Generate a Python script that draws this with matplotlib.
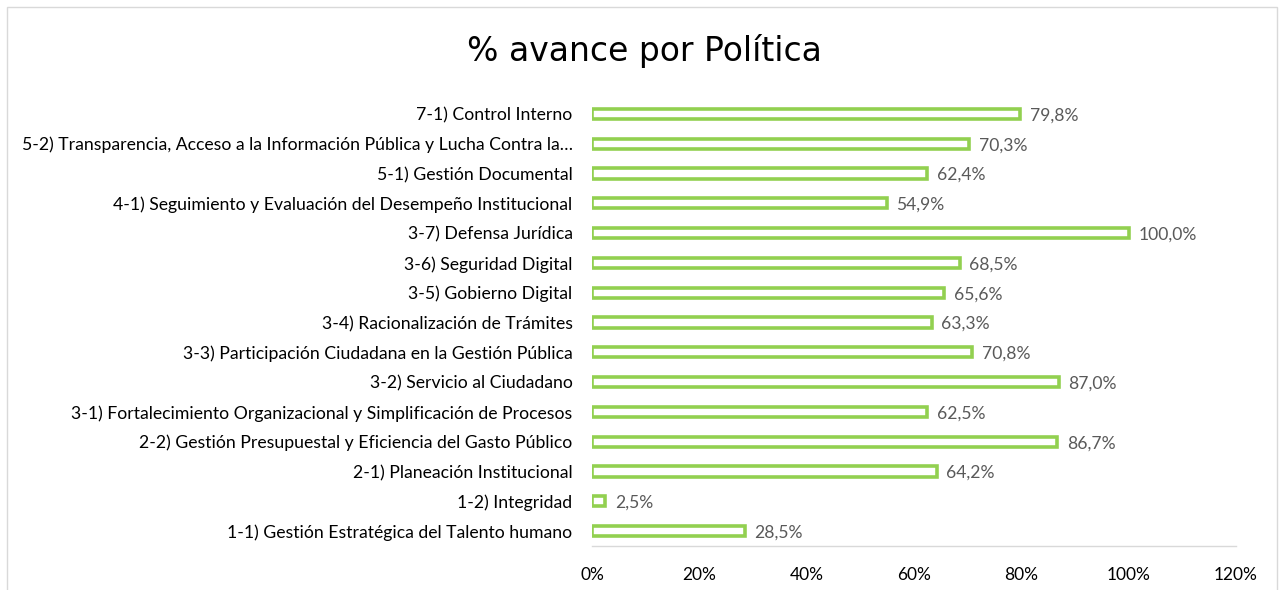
import matplotlib.pyplot as plt
from matplotlib.patches import Rectangle
from matplotlib.ticker import FuncFormatter

categorias = [
    "1-1) Gestión Estratégica del Talento humano",
    "1-2) Integridad",
    "2-1) Planeación Institucional",
    "2-2) Gestión Presupuestal y Eficiencia del Gasto Público",
    "3-1) Fortalecimiento Organizacional y Simplificación de Procesos",
    "3-2) Servicio al Ciudadano",
    "3-3) Participación Ciudadana en la Gestión Pública",
    "3-4) Racionalización de Trámites",
    "3-5) Gobierno Digital",
    "3-6) Seguridad Digital",
    "3-7) Defensa Jurídica",
    "4-1) Seguimiento y Evaluación del Desempeño Institucional",
    "5-1) Gestión Documental",
    "5-2) Transparencia, Acceso a la Información Pública y Lucha Contra la…",
    "7-1) Control Interno",
]
avance = [0.285, 0.025, 0.642, 0.867, 0.625, 0.870, 0.708, 0.633, 0.656,
          0.685, 1.000, 0.549, 0.624, 0.703, 0.798]
ticks_x = [0, 0.2, 0.4, 0.6, 0.8, 1.0, 1.2]

plt.rcParams['font.family'] = ['Lato', 'DejaVu Sans']

fig = plt.figure(figsize=(12.82, 5.9), dpi=100)
ax = fig.add_axes([592/1282, 1 - 546/590, 644/1282, 447/590])

verde = '#92D050'
ax.barh(range(len(avance)), avance, height=0.34, color='white',
        edgecolor=verde, linewidth=2.6)

for i, v in enumerate(avance):
    ax.text(v + 0.018, i, f"{v*100:.1f}%".replace('.', ','),
            va='center_baseline', ha='left', fontsize=12.6, color='#595959')

ax.set_xlim(0, 1.2)
ax.set_ylim(-0.5, len(avance) - 0.5)
ax.set_xticks(ticks_x)
ax.xaxis.set_major_formatter(FuncFormatter(lambda x, p: f"{x*100:.0f}%"))
ax.set_yticks(range(len(categorias)))
ax.set_yticklabels(categorias)
ax.tick_params(axis='y', length=0, pad=14, labelsize=12.7, labelcolor='black')
ax.tick_params(axis='x', length=0, pad=15, labelsize=12.5, labelcolor='black')

for s in ['top', 'right', 'left']:
    ax.spines[s].set_visible(False)
ax.spines['bottom'].set_color('#D9D9D9')
ax.spines['bottom'].set_linewidth(1)

fig.text(644/1282, 1 - 51/590, "% avance por Política", ha='center',
         va='center', fontsize=23.8, color='black', family='DejaVu Sans')

# marco del gráfico
fig.patches.append(Rectangle((7/1282, -0.05), 1270/1282, 1 - 7/590 + 0.05,
                             transform=fig.transFigure, fill=False,
                             edgecolor='#D9D9D9', linewidth=1))

fig.savefig('out.png', dpi=100)
